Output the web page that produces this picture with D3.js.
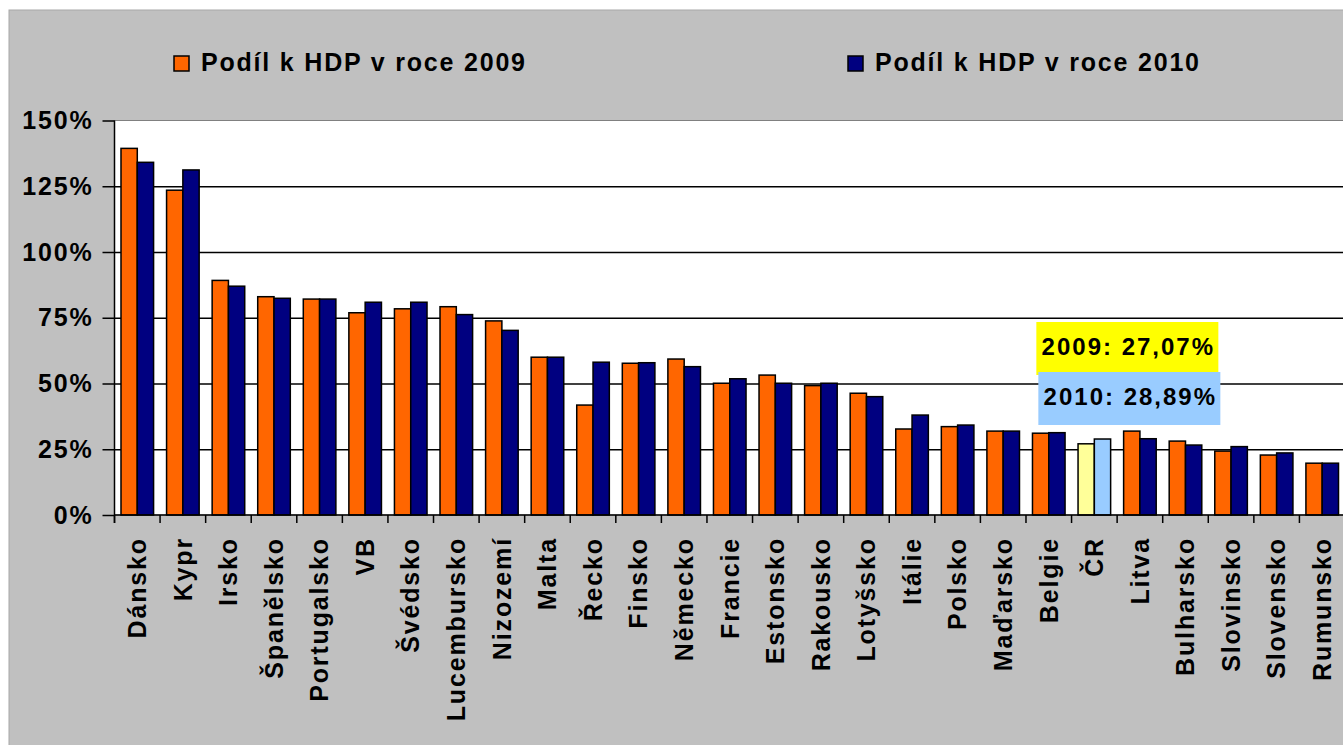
<!DOCTYPE html>
<html>
<head>
<meta charset="utf-8">
<script src="https://cdn.jsdelivr.net/npm/d3@7"></script>
<style>
  body { margin: 0; background: #fff; }
  svg { display: block; font-family: "Liberation Sans", Arial, sans-serif; font-weight: bold; }
  .axis text { font-size: 25px; letter-spacing: 1.85px; fill: #000; font-weight: bold; }
  .axis path { display: none; }
</style>
</head>
<body>
<svg id="chart" width="1343" height="745"></svg>
<script>
var countries = ['Dánsko', 'Kypr', 'Irsko', 'Španělsko', 'Portugalsko', 'VB', 'Švédsko',
  'Lucembursko', 'Nizozemí', 'Malta', 'Řecko', 'Finsko', 'Německo', 'Francie', 'Estonsko',
  'Rakousko', 'Lotyšsko', 'Itálie', 'Polsko', 'Maďarsko', 'Belgie', 'ČR', 'Litva',
  'Bulharsko', 'Slovinsko', 'Slovensko', 'Rumunsko'];
var share2009 = [139.4, 123.5, 89.2, 83.0, 82.1, 76.9, 78.4, 79.2, 73.8, 60.0, 41.8, 57.7, 59.3,
  50.1, 53.2, 49.2, 46.3, 32.7, 33.6, 31.9, 31.1, 27.07, 31.9, 28.1, 24.3, 22.8, 19.7];
var share2010 = [134.1, 131.2, 87.0, 82.4, 82.1, 80.9, 80.9, 76.2, 70.2, 60.0, 58.1, 57.9, 56.4,
  51.8, 50.1, 50.1, 45.0, 38.0, 34.2, 31.9, 31.3, 28.89, 29.0, 26.6, 26.0, 23.6, 19.7];
var years = ['2009', '2010'];
var legendLabels = ['Podíl k HDP v roce 2009', 'Podíl k HDP v roce 2010'];
var yTicks = [0, 25, 50, 75, 100, 125, 150];
var highlight = 'ČR';

var svg = d3.select('#chart');
var colors = { '2009': '#ff6600', '2010': '#000080' };
var hiColors = { '2009': '#ffff99', '2010': '#99ccff' };

var plotLeft = 114.5, plotRight = 1345, plotTop = 120.5, plotBottom = 515;

// grey chart area
svg.append('rect')
  .attr('x', 9).attr('y', 10)
  .attr('width', 1343).attr('height', 745)
  .attr('fill', '#c0c0c0')
  .attr('stroke', '#a8a8a8');

// plot area
svg.append('rect')
  .attr('x', plotLeft).attr('y', plotTop)
  .attr('width', plotRight - plotLeft).attr('height', plotBottom - plotTop)
  .attr('fill', '#fff')
  .attr('stroke', '#808080');

var x0 = d3.scaleBand()
  .domain(countries)
  .range([plotLeft, plotRight])
  .paddingInner(0.285)
  .paddingOuter(0.1425);
var x1 = d3.scaleBand()
  .domain(years)
  .range([0, x0.bandwidth()]);
var y = d3.scaleLinear()
  .domain([0, 150])
  .range([plotBottom, plotTop]);

// gridlines
svg.append('g')
  .attr('transform', `translate(${plotLeft}, 0)`)
  .call(d3.axisLeft(y).tickValues(yTicks.slice(1, -1)).tickSize(-(plotRight - plotLeft)).tickFormat(''))
  .call(g => g.select('.domain').remove())
  .selectAll('line')
    .attr('stroke', '#000')
    .attr('stroke-width', 1.5);

// y axis
var yAxis = svg.append('g')
  .classed('axis', true)
  .attr('transform', `translate(${plotLeft}, 0)`)
  .call(d3.axisLeft(y).tickValues(yTicks).tickSize(12).tickPadding(9).tickFormat(d => d + '%'));
yAxis.selectAll('line').attr('stroke', '#000').attr('stroke-width', 1.5);

// bars
var series = [share2009, share2010];
var groups = svg.selectAll('.group')
  .data(countries)
  .enter()
  .append('g')
    .classed('group', true)
    .attr('transform', d => `translate(${x0(d)}, 0)`);

groups.selectAll('rect')
  .data((c, i) => years.map((yr, j) => ({ year: yr, value: series[j][i], country: c })))
  .enter()
  .append('rect')
    .attr('x', d => x1(d.year))
    .attr('y', d => y(d.value))
    .attr('width', x1.bandwidth())
    .attr('height', d => plotBottom - y(d.value))
    .attr('fill', d => d.country == highlight ? hiColors[d.year] : colors[d.year])
    .attr('stroke', '#000')
    .attr('stroke-width', 1.5);

// axis lines
svg.append('line')
  .attr('x1', plotLeft).attr('x2', plotRight)
  .attr('y1', plotBottom).attr('y2', plotBottom)
  .attr('stroke', '#000').attr('stroke-width', 1.5);
svg.append('line')
  .attr('x1', plotLeft).attr('x2', plotLeft)
  .attr('y1', plotTop).attr('y2', plotBottom + 8)
  .attr('stroke', '#000').attr('stroke-width', 1.5);

// category ticks on the boundaries
var step = x0.step();
svg.append('g')
  .selectAll('line')
  .data(d3.range(countries.length + 1))
  .enter()
  .append('line')
    .attr('x1', i => plotLeft + i * step)
    .attr('x2', i => plotLeft + i * step)
    .attr('y1', plotBottom)
    .attr('y2', plotBottom + 8)
    .attr('stroke', '#000')
    .attr('stroke-width', 1.5);

// category labels
svg.append('g')
  .classed('axis', true)
  .selectAll('text')
  .data(countries)
  .enter()
  .append('text')
    .attr('transform', d => `translate(${x0(d) + x0.bandwidth() / 2}, 537) rotate(-90)`)
    .attr('dy', '0.35em')
    .attr('text-anchor', 'end')
    .text(d => d);

// legend
var legendX = [174, 848];
var legend = svg.selectAll('.legend')
  .data(years)
  .enter()
  .append('g')
    .classed('legend', true)
    .attr('transform', (d, i) => `translate(${legendX[i]}, 56)`);
legend.append('rect')
  .attr('width', 15).attr('height', 15)
  .attr('fill', d => colors[d])
  .attr('stroke', '#000')
  .attr('stroke-width', 1.5);
legend.append('text')
  .attr('x', 27)
  .attr('y', 15)
  .style('font-size', '25px')
  .style('letter-spacing', '1.8px')
  .text((d, i) => legendLabels[i]);

// ČR callout
var fmt = v => v.toFixed(2).replace('.', ',') + '%';
var hiIndex = countries.indexOf(highlight);
var cx = x0(highlight) + x0.bandwidth() / 2 + 33;
var callout = [
  { text: '2009: ' + fmt(share2009[hiIndex]), fill: '#ffff00', top: 322, dx: 0 },
  { text: '2010: ' + fmt(share2010[hiIndex]), fill: '#99ccff', top: 372, dx: 2 }
];
var boxes = svg.selectAll('.callout')
  .data(callout)
  .enter()
  .append('g')
    .classed('callout', true);
boxes.append('rect')
  .attr('x', d => cx - 91 + d.dx)
  .attr('y', d => d.top)
  .attr('width', 182)
  .attr('height', 53)
  .attr('fill', d => d.fill);
boxes.append('text')
  .attr('x', d => cx + d.dx + 1)
  .attr('y', d => d.top + 33)
  .attr('text-anchor', 'middle')
  .style('font-size', '24px')
  .style('letter-spacing', '2px')
  .text(d => d.text);
</script>
</body>
</html>
